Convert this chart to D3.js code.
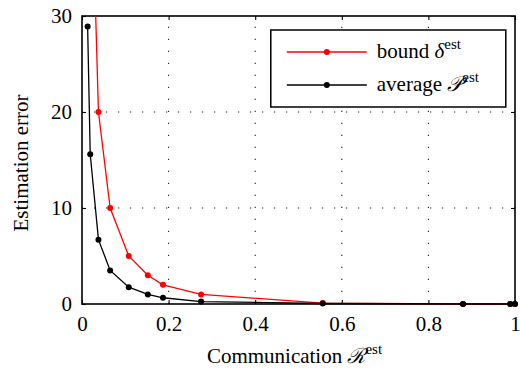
<!DOCTYPE html>
<html>
  <head>
    <meta charset="utf-8">
    <title>Estimation error vs communication</title>
    <style>
      body { margin: 0; background: #fff; }
      text { font-family: "Liberation Serif", "Times New Roman", serif; }
    </style>
  </head>
  <body>
    <div id="chart"></div>
    <script src="https://cdn.jsdelivr.net/npm/d3@7"></script>
    <script>

        var commValues  = [0.013, 0.019, 0.038, 0.065, 0.108, 0.152, 0.187, 0.275, 0.556, 0.88, 0.989, 1.0];
        var boundValues = [100, 50, 20, 10, 5, 3, 2, 1, 0.1, 0, 0, 0];
        var avgValues   = [28.9, 15.6, 6.7, 3.5, 1.75, 1.0, 0.65, 0.25, 0.05, 0, 0, 0];
        var xTicks = [0, 0.2, 0.4, 0.6, 0.8, 1];
        var yTicks = [0, 10, 20, 30];

        var width = 520;
        var height = 370;
        var margin = { top: 16, right: 5, bottom: 66, left: 82 };
        var w = width - margin.left - margin.right;
        var h = height - margin.top - margin.bottom;

        var svg = d3.select('#chart')
          .append('svg')
          .attr('width', width)
          .attr('height', height);

        var g = svg.append('g')
          .attr('transform', 'translate(' + margin.left + ',' + margin.top + ')');

        var x = d3.scaleLinear().domain([0, 1]).range([0, w]);
        var y = d3.scaleLinear().domain([0, 30]).range([h, 0]);

        // grid (dotted)
        g.selectAll('.gx')
          .data(xTicks.slice(1, -1))
          .enter().append('line')
          .attr('x1', x).attr('x2', x)
          .attr('y1', h).attr('y2', 0)
          .attr('stroke', '#222').attr('stroke-width', 1.1)
          .attr('stroke-dasharray', '1.2,10.8');
        g.selectAll('.gy')
          .data(yTicks.slice(1, -1))
          .enter().append('line')
          .attr('y1', y).attr('y2', y)
          .attr('x1', 0).attr('x2', w)
          .attr('stroke', '#222').attr('stroke-width', 1.1)
          .attr('stroke-dasharray', '1.2,10.8');

        // axes with inward ticks
        var fontSize = 21;
        g.append('g').attr('transform', 'translate(0,' + h + ')')
          .call(d3.axisBottom(x).tickValues(xTicks).tickSize(-4).tickPadding(12)
            .tickFormat(function(d) { return d === 0 || d === 1 ? d : d3.format('.1f')(d); }));
        g.append('g')
          .call(d3.axisLeft(y).tickValues(yTicks).tickSize(-4).tickPadding(10));
        g.append('g').call(d3.axisTop(x).tickValues(xTicks).tickSize(-4).tickFormat(''));
        g.append('g').attr('transform', 'translate(' + w + ',0)')
          .call(d3.axisRight(y).tickValues(yTicks).tickSize(-4).tickFormat(''));
        g.selectAll('.domain').remove();
        g.selectAll('.tick text')
          .attr('font-family', '"Liberation Serif", serif')
          .style('font-family', '"Liberation Serif", serif')
          .style('font-size', fontSize + 'px')
          .attr('fill', '#000');
        g.selectAll('.tick line').attr('stroke', '#000').attr('stroke-width', 1.1);

        g.append('rect')
          .attr('width', w).attr('height', h)
          .attr('fill', 'none').attr('stroke', '#000').attr('stroke-width', 1.6);

        g.append('clipPath').attr('id', 'clip')
          .append('rect').attr('x', -5).attr('y', 0).attr('width', w + 10).attr('height', h + 5);

        var plot = g.append('g').attr('clip-path', 'url(#clip)');

        var line = d3.line()
          .x(function(d) { return x(d[0]); })
          .y(function(d) { return y(d[1]); });

        var series = [
          { name: 'bound', color: '#ff0000', values: d3.zip(commValues, boundValues) },
          { name: 'average', color: '#000000', values: d3.zip(commValues, avgValues) }
        ];

        series.forEach(function(s) {
          plot.append('path')
            .datum(s.values)
            .attr('d', line)
            .attr('fill', 'none')
            .attr('stroke', s.color)
            .attr('stroke-width', 1.3);
          plot.selectAll('.pt-' + s.name)
            .data(s.values.filter(function(d) { return d[1] <= 30; }))
            .enter().append('circle')
            .attr('cx', function(d) { return x(d[0]); })
            .attr('cy', function(d) { return y(d[1]); })
            .attr('r', 3)
            .attr('fill', s.color);
        });

        // legend
        var lg = g.append('g').attr('transform', 'translate(' + (x(0.436)) + ',' + 14 + ')');
        lg.append('rect')
          .attr('width', 235).attr('height', 77)
          .attr('fill', '#fff').attr('stroke', '#000').attr('stroke-width', 1.5);
        var labels = [
          { sym: 'δ', color: '#ff0000' },
          { sym: '𝒫', color: '#000000' }
        ];
        series.forEach(function(s, i) {
          var ly = 22 + i * 33;
          lg.append('line')
            .attr('x1', 16).attr('x2', 96).attr('y1', ly).attr('y2', ly)
            .attr('stroke', s.color).attr('stroke-width', 1.3);
          lg.append('circle').attr('cx', 56).attr('cy', ly).attr('r', 3).attr('fill', s.color);
          var t = lg.append('text')
            .attr('x', 106).attr('y', ly + 6)
            .style('font-size', fontSize + 'px');
          t.append('tspan').text(s.name + ' ');
          t.append('tspan').style('font-style', 'italic').text(labels[i].sym);
          t.append('tspan').attr('dy', -9).style('font-size', '15px').text('est');
        });

        // axis titles
        var xt = svg.append('text')
          .attr('x', margin.left + w / 2 - 4).attr('y', 363)
          .attr('text-anchor', 'middle')
          .style('font-size', fontSize + 'px');
        xt.append('tspan').text('Communication ');
        xt.append('tspan').style('font-style', 'italic').text('ℛ');
        xt.append('tspan').attr('dy', -9).style('font-size', '15px').text('est');

        svg.append('text')
          .attr('transform', 'translate(28,' + (margin.top + h / 2 + 3) + ') rotate(-90)')
          .attr('text-anchor', 'middle')
          .style('font-size', fontSize + 'px')
          .text('Estimation error');

    </script>
  </body>
</html>
